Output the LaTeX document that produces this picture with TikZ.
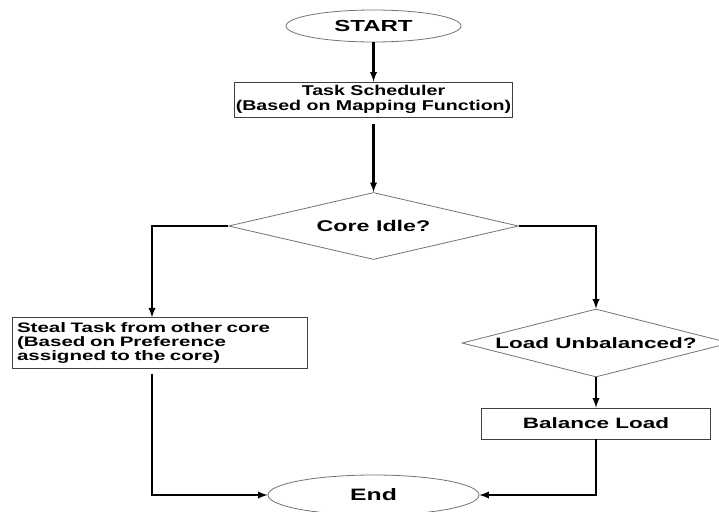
\documentclass[tikz,border=0pt]{standalone}
\usepackage{fontspec}
\setmainfont{Liberation Sans}[FakeStretch=1.5]
\newfontfamily\schedfont{Liberation Sans}[FakeStretch=1.38]
\usetikzlibrary{shapes.geometric}

\begin{document}
\begin{tikzpicture}[x=1pt,y=-1pt,
      term/.style={ellipse,draw=black!55,line width=0.8pt,inner sep=0pt},
      proc/.style={rectangle,draw=black!75,line width=0.8pt,inner sep=5pt},
      test/.style={diamond,draw=black!55,line width=0.8pt,inner sep=0pt,aspect=4},
      flow/.style={-latex,line width=2.2pt}]

      \useasboundingbox (0,0) rectangle (719,511);

      \node[term,minimum width=175,minimum height=32,font={\bfseries\fontsize{16}{16}\selectfont}] (start) at (373.5,26) {START};
      \node[proc,minimum width=278,minimum height=35,inner sep=1pt,align=center,font={\schedfont\bfseries\fontsize{14.2}{14.5}\selectfont}] (sched) at (373.5,99.5) {Task Scheduler\\(Based on Mapping Function)};
      \node[test,minimum width=290,minimum height=67,font={\bfseries\fontsize{15.5}{16}\selectfont}] (idle) at (373.5,226) {Core Idle?};

      \node[proc,minimum height=50,text width=285,align=left,font={\bfseries\fontsize{13.7}{13.8}\selectfont}] (steal) at (159.5,343) {Steal Task from other core\\(Based on Preference\\assigned to the core)};
      \node[test,minimum width=268,minimum height=68,font={\bfseries\fontsize{15}{16}\selectfont}] (unbal) at (596,343) {Load Unbalanced?};
      \node[proc,minimum width=229,minimum height=31,font={\bfseries\fontsize{15}{16}\selectfont}] (bal) at (596,423.5) {Balance Load};

      \node[term,minimum width=211,minimum height=40,font={\bfseries\fontsize{16.5}{17}\selectfont}] (end) at (373.5,495) {End};

      \coordinate (lturn) at (152,226);

      \draw[flow] (start) -- (sched);
      \draw[flow,shorten <=7pt] (sched) -- (idle);
      \draw[flow] (idle.west) -- (lturn) -- (lturn |- steal.north);
      \draw[flow] (idle.east) -| (unbal.north);
      \draw[flow] (unbal) -- (bal);
      \draw[flow,shorten <=5pt] (lturn |- steal.south) |- (end.west);
      \draw[flow] (bal) |- (end.east);

\end{tikzpicture}
\end{document}
